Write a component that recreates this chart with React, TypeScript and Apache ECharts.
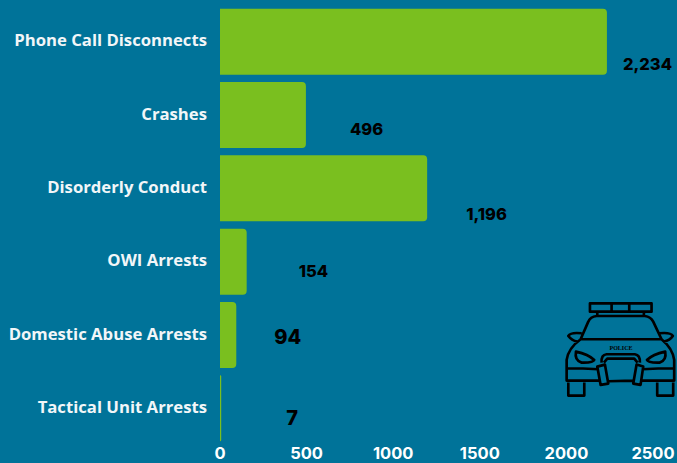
import React, { useEffect, useRef } from "react";
import * as echarts from "echarts";

const categories = ["Phone Call Disconnects", "Crashes", "Disorderly Conduct", "OWI Arrests", "Domestic Abuse Arrests", "Tactical Unit Arrests"];
const values = [2234, 496, 1196, 154, 94, 7];
const valueTexts = ["2,234", "496", "1,196", "154", "94", "7"];
const labelOffsets = [[11, 22], [39, 14], [34, 26], [47, 9], [33, 2], [60, 10]];
const labelSizes = [16.5, 16.5, 16.5, 16.5, 20, 20];

const carPath = [
  "M150 40H335V65H150Z M215 40V65 M268 40V65 M172 65V78 M312 65V78",
  "M122 148L145 95Q151 80 170 78H315Q332 80 340 95L365 148Z",
  "M125 130Q92 126 85 138Q95 151 112 155 M358 130Q392 126 399 138Q390 151 372 155",
  "M122 148Q85 175 80 210V272L178 272 M205 274L280 272 M305 272L403 272V210Q398 175 365 148",
  "M82 235Q130 235 175 238 M308 238Q355 235 402 235",
  "M108 185Q145 193 163 210Q160 219 125 218Q103 212 108 185Z M376 185Q339 193 321 210Q324 219 359 218Q381 212 376 185Z",
  "M185 218Q183 195 200 193H285Q301 195 300 218 M192 218L202 206H283L293 218",
  "M172 230L195 224L205 281L182 285Z M290 224L310 230L302 285L280 281Z",
  "M85 278V317H133V278 M352 278V317H400V278",
].join(" ");
echarts.graphic.registerShape("policeCarPath", echarts.graphic.extendPath(carPath, {}) as any);

export default function App() {
  const ref = useRef<HTMLDivElement>(null);
  useEffect(() => {
    document.body.style.margin = "0";
    const chart = echarts.init(ref.current!, undefined, { renderer: "svg" });
    chart.setOption({
      animation: false,
      backgroundColor: "#007399",
      grid: { left: 220, right: 24, top: 5, bottom: 18, outerBoundsMode: "none" },
      xAxis: {
        type: "value", min: 0, max: 2500, interval: 500,
        axisLine: { show: false }, axisTick: { show: false }, splitLine: { show: false },
        axisLabel: {
          color: "#ffffff", fontFamily: "Inter", fontWeight: 700, fontSize: 16.5, margin: 2, lineHeight: 12,
          formatter: (v: number) => String(v),
        },
      },
      yAxis: {
        type: "category", inverse: true, data: categories,
        axisLine: { show: false }, axisTick: { show: false },
        axisLabel: { color: "#f2f6f8", fontFamily: "Open Sans", fontWeight: 700, fontSize: 16.7, margin: 13, verticalAlign: "bottom", lineHeight: 4 },
      },
      series: [{
        type: "bar",
        barWidth: 66,
        itemStyle: { color: "#7abf1f", borderRadius: [0, 4, 4, 0] },
        data: values.map((v, i) => ({
          value: v,
          label: {
            show: true, position: "right", distance: 5,
            offset: labelOffsets[i],
            formatter: valueTexts[i],
            color: "#000000", fontFamily: "Inter", fontWeight: 800, fontSize: labelSizes[i],
          },
        })),
      }],
      graphic: [
        {
          type: "policeCarPath", x: 540, y: 290, scaleX: 1 / 3, scaleY: 1 / 3,
          style: { fill: "none", stroke: "#000000", lineWidth: 8, lineJoin: "round" },
        },
        {
          type: "text", x: 621, y: 347.7,
          style: { text: "POLICE", fill: "#000000", font: "bold 6px 'Liberation Serif'", align: "center", verticalAlign: "middle" },
        },
      ],
    });
    return () => chart.dispose();
  }, []);
  return <div ref={ref} style={{ width: 677, height: 463 }} />;
}
